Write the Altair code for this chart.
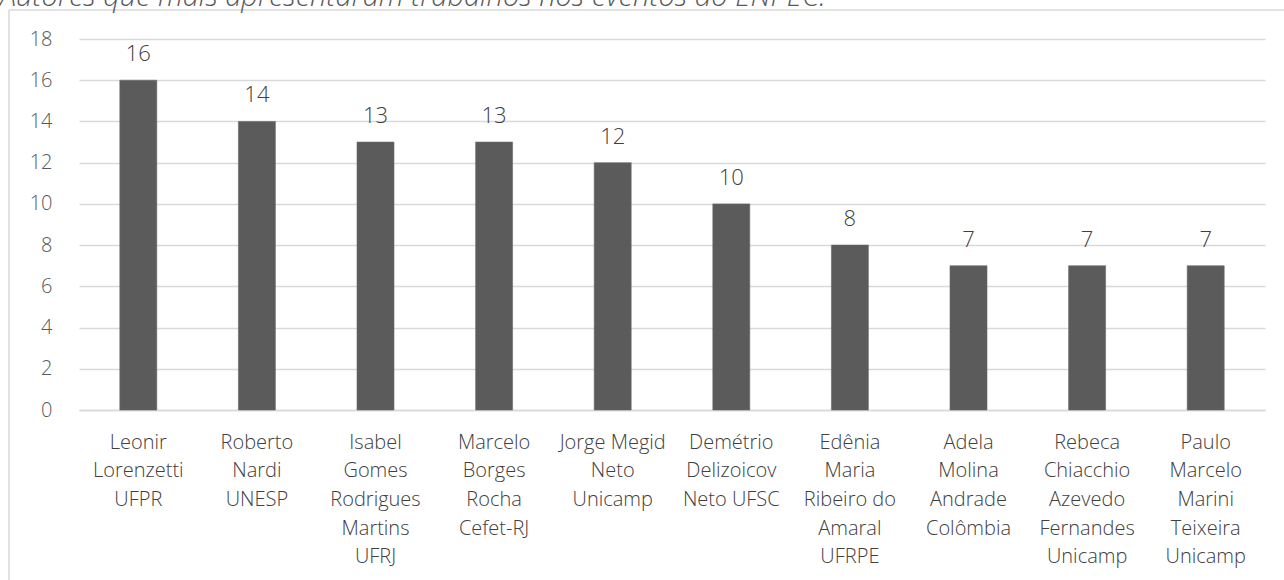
import altair as alt
import pandas as pd

# Authors (one line of the axis label per list entry) and their paper counts
authors = [
    ["Leonir", "Lorenzetti", "UFPR"],
    ["Roberto", "Nardi", "UNESP"],
    ["Isabel", "Gomes", "Rodrigues", "Martins", "UFRJ"],
    ["Marcelo", "Borges", "Rocha", "Cefet-RJ"],
    ["Jorge Megid", "Neto", "Unicamp"],
    ["Demétrio", "Delizoicov", "Neto UFSC"],
    ["Edênia", "Maria", "Ribeiro do", "Amaral", "UFRPE"],
    ["Adela", "Molina", "Andrade", "Colômbia"],
    ["Rebeca", "Chiacchio", "Azevedo", "Fernandes", "Unicamp"],
    ["Paulo", "Marcelo", "Marini", "Teixeira", "Unicamp"],
]
papers = [16, 14, 13, 13, 12, 10, 8, 7, 7, 7]
y_ticks = [0, 2, 4, 6, 8, 10, 12, 14, 16, 18]
title_text = "Autores que mais apresentaram trabalhos nos eventos do ENPEC."

df = pd.DataFrame({
    "autor": ["|".join(a) for a in authors],
    "trabalhos": papers,
})
order = list(df["autor"])

W, H = 1186, 371
GRID = "#d9d9d9"

x_enc = alt.X(
    "autor:N",
    sort=order,
    scale=alt.Scale(paddingInner=0.688, paddingOuter=0.344),
    axis=alt.Axis(
        title=None,
        labelAngle=0,
        labelExpr="split(datum.label, '|')",
        labelFontSize=20,
        labelFontWeight=300,
        labelLineHeight=28.7,
        labelColor="#404040",
        labelPadding=22,
        labelLimit=400,
        ticks=False,
        domainColor=GRID,
        domainWidth=1.3,
    ),
)
y_enc = alt.Y(
    "trabalhos:Q",
    scale=alt.Scale(domain=[0, 18], nice=False),
    axis=alt.Axis(
        title=None,
        values=y_ticks,
        labelFontSize=20,
        labelFontWeight=300,
        labelColor="#595959",
        labelPadding=27,
        ticks=False,
        domain=False,
        gridColor=GRID,
        gridWidth=1.3,
    ),
)

base = alt.Chart(df)
bars = base.mark_bar(color="#5b5b5b", stroke="#6a6a6a", strokeWidth=0.6).encode(x=x_enc, y=y_enc)
values = base.mark_text(
    baseline="alphabetic", dy=-19, fontSize=22, fontWeight=300, color="#404040"
).encode(x=alt.X("autor:N", sort=order), y="trabalhos:Q", text="trabalhos:Q")

# Outer frame of the chart area (left and top edges)
frame_data = alt.Data(values=[{"k": 1}])
frame_left = alt.Chart(frame_data).mark_rule(color=GRID, strokeWidth=1.5).encode(
    x=alt.value(-70), y=alt.value(-29), y2=alt.value(H + 200)
)
frame_top = alt.Chart(frame_data).mark_rule(color=GRID, strokeWidth=1.5).encode(
    x=alt.value(-70), x2=alt.value(W + 60), y=alt.value(-29)
)

heading = alt.Chart(alt.Data(values=[{"t": title_text}])).mark_text(
    align="left", baseline="alphabetic", fontSize=29, fontStyle="italic",
    fontWeight=300, color="#595959"
).encode(x=alt.value(-79), y=alt.value(-33), text="t:N")

chart = (
    alt.layer(frame_left, frame_top, heading, bars, values)
    .properties(
        width=W,
        height=H,
        autosize=alt.AutoSizeParams(type="none"),
        padding={"left": 79, "top": 39, "right": 19, "bottom": 170},
    )
    .configure(font="Open Sans")
    .configure_view(stroke=None)
)

chart.save("out.html", embed_options={"renderer": "svg", "actions": False})
